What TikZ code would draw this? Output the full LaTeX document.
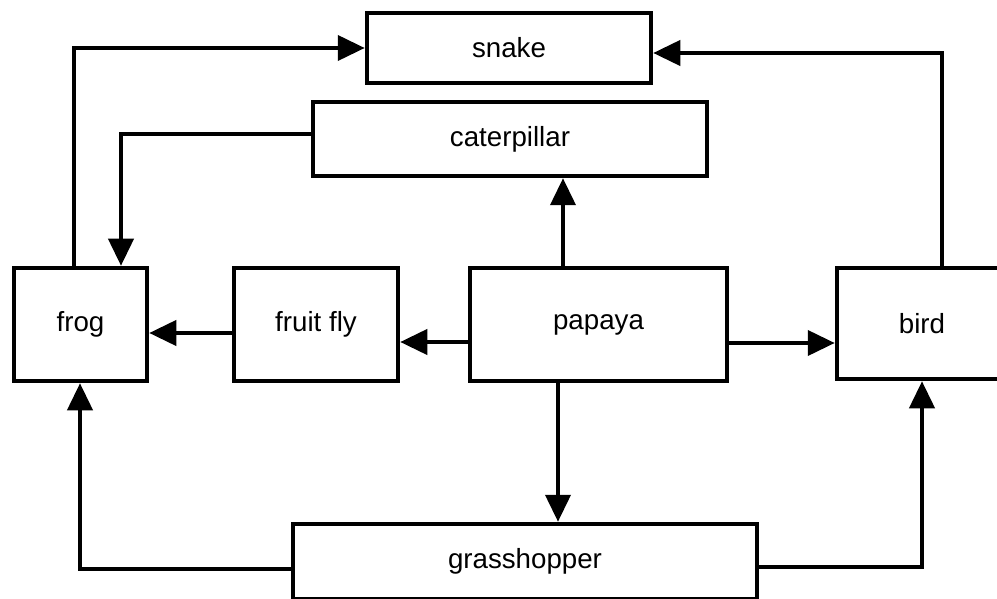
\documentclass[tikz,border=0pt]{standalone}
\usepackage{fontspec}
\setmainfont{Liberation Sans}
\usetikzlibrary{arrows.meta}
\begin{document}
\begin{tikzpicture}[x=1pt,y=-1pt,
  box/.style={draw=black, line width=4.5pt, inner sep=0pt, fill=white,
    font=\fontsize{27.7}{33}\selectfont},
  link/.style={draw=black, line width=4pt,
    -{Triangle[length=27pt,width=25pt]}}]
  \useasboundingbox (0,0) rectangle (997,599);
  \clip (0,0) rectangle (997,599);
  \fill[white] (0,0) rectangle (997,599);

  % organisms
  \node[box, minimum width=284pt, minimum height=70pt]  (snake)       at (509,48)    {snake};
  \node[box, minimum width=394pt, minimum height=74pt]  (caterpillar) at (510,139)   {caterpillar};
  \node[box, minimum width=133pt, minimum height=113pt] (frog)        at (80.5,324.5) {frog};
  \node[box, minimum width=164pt, minimum height=113pt] (fruitfly)    at (316,324.5) {fruit fly};
  \node[box, minimum width=257pt, minimum height=113pt] (papaya)      at (598.5,324.5) {papaya};
  \node[box, minimum width=170pt, minimum height=111pt] (bird)        at (922,323.5) {bird};
  \node[box, minimum width=464pt, minimum height=75pt]  (grasshopper) at (525,561.5) {grasshopper};

  % bends of the elbow connectors
  \coordinate (frogup)   at (74,48);
  \coordinate (birdup)   at (942,53);
  \coordinate (catleft)  at (121,134);
  \coordinate (grassL)   at (80,569);
  \coordinate (grassR)   at (922,567);
  \coordinate (papUp)    at (563,0);
  \coordinate (papDown)  at (558,0);
  \coordinate (ffrow)    at (0,342);
  \coordinate (frogrow)  at (0,333);
  \coordinate (birdrow)  at (0,343);

  % energy flow
  \draw[link] (frog.north -| frogup) -- (frogup) -- (snake.west |- frogup);
  \draw[link] (bird.north -| birdup) -- (birdup) -- (snake.east |- birdup);
  \draw[link] (caterpillar.west |- catleft) -- (catleft) -- (frog.north -| catleft);
  \draw[link] (papaya.north -| papUp) -- (caterpillar.south -| papUp);
  \draw[link] (papaya.west |- ffrow) -- (fruitfly.east |- ffrow);
  \draw[link] (fruitfly.west |- frogrow) -- (frog.east |- frogrow);
  \draw[link] (papaya.east |- birdrow) -- (bird.west |- birdrow);
  \draw[link] (papaya.south -| papDown) -- (grasshopper.north -| papDown);
  \draw[link] (grasshopper.west |- grassL) -- (grassL) -- (frog.south -| grassL);
  \draw[link] (grasshopper.east |- grassR) -- (grassR) -- (bird.south -| grassR);
\end{tikzpicture}
\end{document}
